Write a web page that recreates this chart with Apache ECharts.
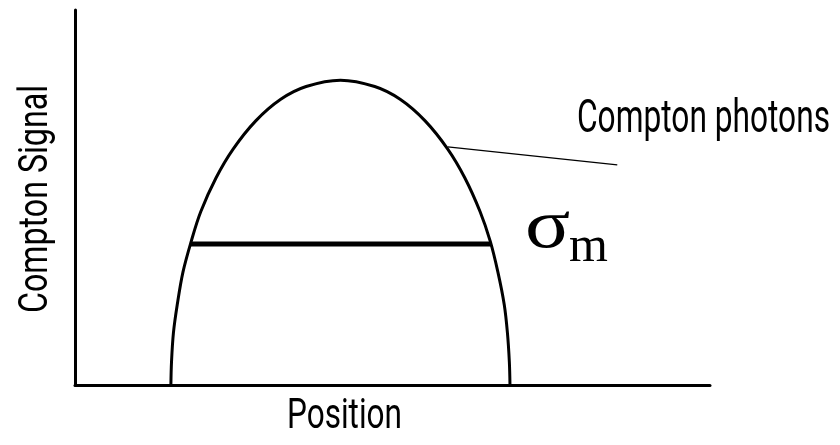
<!DOCTYPE html>
<html>
<head>
<meta charset="utf-8">
<style>
  html, body { margin: 0; padding: 0; background: #ffffff; }
  #chart { width: 840px; height: 445px; }
</style>
<script src="https://cdn.jsdelivr.net/npm/echarts@6/dist/echarts.min.js"></script>
</head>
<body>
<div id="chart"></div>
<script>
// Compton signal profile across position (arbitrary units, 0-100 on both axes)
var positions = [15.1, 15.2, 15.5, 16.1, 17.0, 18.3, 19.8, 22.2, 24.9, 28.5, 32.4, 36.4, 41.8,
                 47.2, 51.2, 55.1, 58.7, 61.4, 63.8, 65.4, 66.6, 67.6, 68.1, 68.4, 68.5];
var signal    = [0, 6.2, 13.9, 21.4, 30.1, 38.3, 46.2, 55.2, 62.9, 70.5, 76.2, 79.6, 81.3,
                 79.6, 76.2, 70.5, 62.9, 55.2, 46.2, 38.3, 30.1, 21.4, 13.9, 6.2, 0];

// Width marker (sigma_m) across the profile
var widthX = [18.1, 65.5];
var widthY = [37.6, 37.6];

// Leader line from the curve to the "Compton photons" label
var leaderX = [58.7, 85.4];
var leaderY = [63.5, 58.7];

var pair = function (xs, ys) { return xs.map(function (x, i) { return [x, ys[i]]; }); };

var sans = "Roboto, 'DejaVu Sans', sans-serif";
var serif = "'Liberation Serif', 'DejaVu Serif', serif";

// Horizontal squeeze so a label of the given font spans the wanted width
var ctx = document.createElement('canvas').getContext('2d');
function squeeze(text, font, width) {
  ctx.font = font;
  return width / ctx.measureText(text).width;
}

function label(text, size, x, y, width, extra) {
  var font = size + 'px ' + sans;
  var el = {
    type: 'text', x: x, y: y, scaleX: squeeze(text, font, width),
    style: { text: text, font: font, fill: '#000', textVerticalAlign: 'middle' }
  };
  for (var k in extra) { el[k] = extra[k]; }
  return el;
}

var chart = echarts.init(document.getElementById('chart'), null, { renderer: 'canvas' });

var signalLabel = label('Compton Signal', 40, 37, 199, 228, { rotation: Math.PI / 2 });
signalLabel.style.textAlign = 'center';

chart.setOption({
  backgroundColor: '#ffffff',
  animation: false,
  grid: { left: 75, right: 130, top: 10, bottom: 60 },
  xAxis: {
    type: 'value', min: 0, max: 100,
    axisLine: { show: true, lineStyle: { color: '#000', width: 3 } },
    axisTick: { show: false }, axisLabel: { show: false }, splitLine: { show: false }
  },
  yAxis: {
    type: 'value', min: 0, max: 100,
    axisLine: { show: true, lineStyle: { color: '#000', width: 3 } },
    axisTick: { show: false }, axisLabel: { show: false }, splitLine: { show: false }
  },
  series: [
    {
      type: 'line', data: pair(positions, signal), smooth: 0.35,
      symbol: 'none', lineStyle: { color: '#000', width: 3 }
    },
    {
      type: 'line', data: pair(widthX, widthY),
      symbol: 'none', lineStyle: { color: '#000', width: 5 }
    },
    {
      type: 'line', data: pair(leaderX, leaderY),
      symbol: 'none', lineStyle: { color: '#000', width: 1.5 }
    }
  ],
  graphic: [
    label('Compton photons', 46, 577, 120, 253, {}),
    label('Position', 42, 287, 417, 115, {}),
    signalLabel,
    {
      type: 'text', x: 525, y: 229, scaleX: 1.2,
      style: { text: '\u03C3', font: '70px ' + serif, fill: '#000', textVerticalAlign: 'middle' }
    },
    {
      type: 'text', x: 569, y: 248,
      style: { text: 'm', font: '50px ' + serif, fill: '#000', textVerticalAlign: 'middle' }
    }
  ]
});
</script>
</body>
</html>
